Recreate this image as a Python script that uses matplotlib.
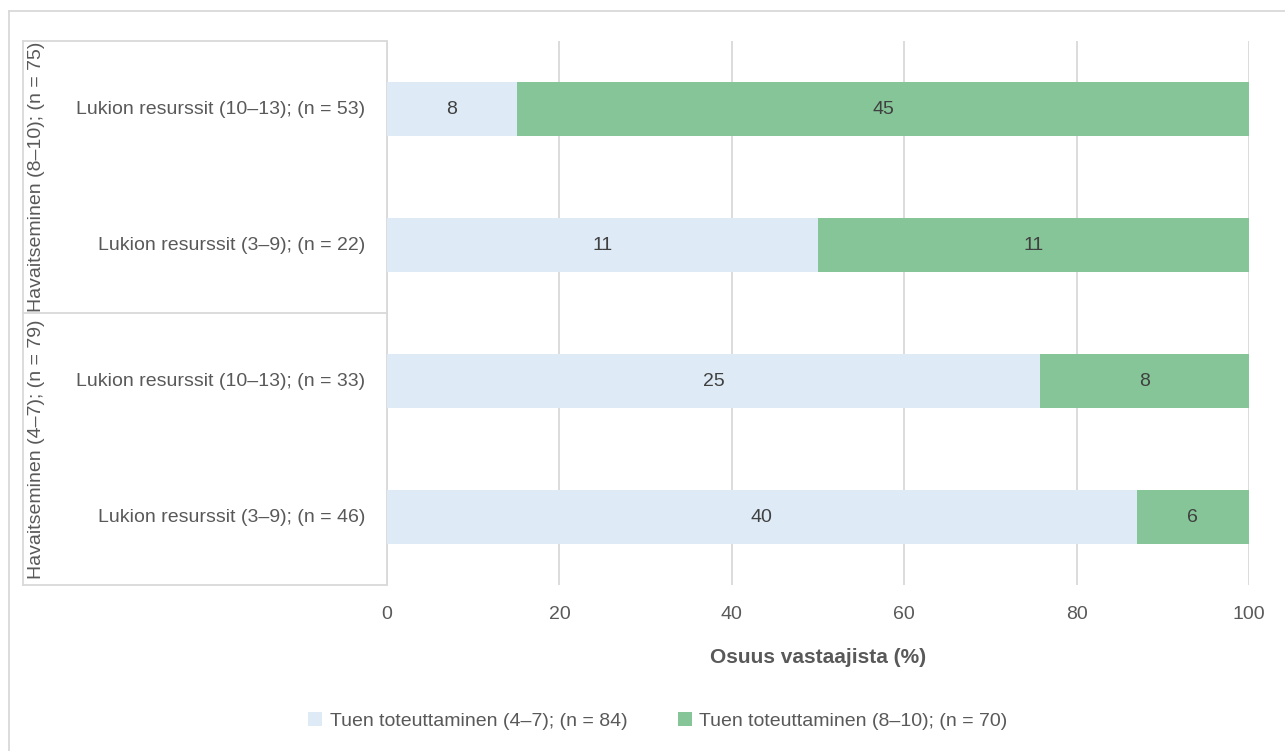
import matplotlib.pyplot as plt
from matplotlib.lines import Line2D

categories = [
    "Lukion resurssit (10–13); (n = 53)",
    "Lukion resurssit (3–9); (n = 22)",
    "Lukion resurssit (10–13); (n = 33)",
    "Lukion resurssit (3–9); (n = 46)",
]
groups = ["Havaitseminen (8–10); (n = 75)", "Havaitseminen (4–7); (n = 79)"]
low_counts = [8, 11, 25, 40]
high_counts = [45, 11, 8, 6]
series_names = ["Tuen toteuttaminen (4–7); (n = 84)", "Tuen toteuttaminen (8–10); (n = 70)"]
xticks = [0, 20, 40, 60, 80, 100]

c_low = "#DEEBF7"
c_high = "#85C597"
txt = "#595959"
grid = "#D9D9D9"

plt.rcParams["font.family"] = ["Liberation Sans", "DejaVu Sans"]

W, H = 1285, 751
fig = plt.figure(figsize=(W / 100, H / 100), dpi=100)
left, right, top, bottom = 387, 1249, 41, 585
ax = fig.add_axes([left / W, 1 - bottom / H, (right - left) / W, (bottom - top) / H])

totals = [a + b for a, b in zip(low_counts, high_counts)]
low_pct = [a / t * 100 for a, t in zip(low_counts, totals)]
high_pct = [b / t * 100 for b, t in zip(high_counts, totals)]
ypos = list(range(len(categories)))[::-1]

b1 = ax.barh(ypos, low_pct, height=0.4, color=c_low, label=series_names[0], zorder=3)
b2 = ax.barh(ypos, high_pct, left=low_pct, height=0.4, color=c_high, label=series_names[1], zorder=3)
ax.bar_label(b1, labels=[str(v) for v in low_counts], label_type="center", color="#404040", fontsize=14)
ax.bar_label(b2, labels=[str(v) for v in high_counts], label_type="center", color="#404040", fontsize=14)

ax.set_xlim(0, 100)
ax.set_ylim(-0.5, 3.5)
ax.set_xticks(xticks)
ax.set_xticklabels([str(v) for v in xticks], color=txt, fontsize=14)
ax.tick_params(axis="x", length=0, pad=15)
ax.set_yticks([])
ax.grid(axis="x", color=grid, linewidth=1.3, zorder=0)
for s in ["top", "right", "bottom"]:
    ax.spines[s].set_visible(False)
ax.spines["left"].set_color(grid)
ax.spines["left"].set_linewidth(1.3)
ax.set_xlabel("Osuus vastaajista (%)", fontsize=15, fontweight="bold", color=txt, labelpad=18)

# category label box (Excel multi-level axis)
def fx(px):
    return px / W

def fy(py):
    return 1 - py / H

mid = (top + bottom) / 2
box_lines = [
    ((23, 386), (top, top)),
    ((23, 386), (mid, mid)),
    ((23, 386), (bottom, bottom)),
    ((23, 23), (top, bottom)),
]
for xs, ys in box_lines:
    fig.add_artist(Line2D([fx(x) for x in xs], [fy(y) for y in ys], color=grid, linewidth=1.3))

for y, lab in zip(ypos, categories):
    ax.text(-0.025, (y + 0.5) / 4, lab, transform=ax.transAxes, ha="right", va="center",
            fontsize=14, color=txt)

group_centers = [(top + mid) / 2, (mid + bottom) / 2]
for g, cy in zip(groups, group_centers):
    fig.text(fx(37), fy(cy), g, rotation=90, ha="center", va="center", fontsize=14, color=txt)

# outer chart border (top and left visible)
fig.add_artist(Line2D([fx(9), 1], [fy(11), fy(11)], color=grid, linewidth=1.3))
fig.add_artist(Line2D([fx(9), fx(9)], [fy(11), 0], color=grid, linewidth=1.3))

fig.legend(handles=[b1, b2], labels=series_names, loc="center", bbox_to_anchor=(658 / W, fy(721)),
           ncol=2, frameon=False, fontsize=14, labelcolor=txt, handlelength=0.7, handleheight=0.7,
           columnspacing=2.6, handletextpad=0.4)

fig.savefig("out.png", dpi=100)
